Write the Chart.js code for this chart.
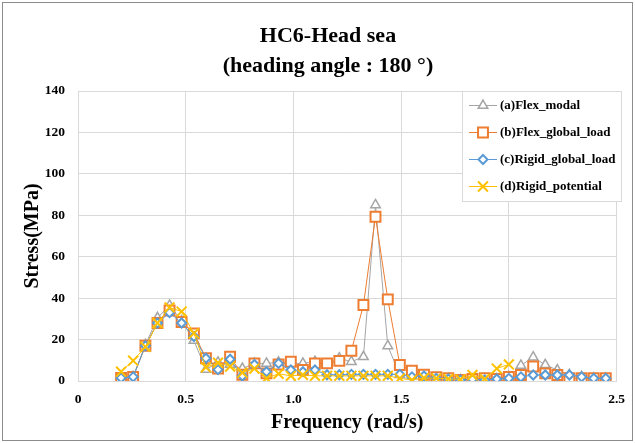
<!DOCTYPE html>
<html>
<head>
<meta charset="utf-8">
<script src="https://cdn.jsdelivr.net/npm/chart.js@4/dist/chart.umd.min.js"></script>
<style>
	html, body { margin: 0; padding: 0; background: #fff; }
	#wrap { width: 635px; height: 443px; }
</style>
</head>
<body>
<div id="wrap"><canvas id="line-chartcanvas-1" width="635" height="443"></canvas></div>
<script>
var titleLines = ['HC6-Head sea', '(heading angle : 180 \u00b0)'];
var seriesNames = ['(a)Flex_modal', '(b)Flex_global_load', '(c)Rigid_global_load', '(d)Rigid_potential'];

var freq = [0.2, 0.256, 0.313, 0.369, 0.425, 0.481, 0.538, 0.594, 0.65, 0.706,
	0.763, 0.819, 0.875, 0.931, 0.988, 1.044, 1.1, 1.156, 1.213, 1.269,
	1.325, 1.381, 1.438, 1.494, 1.55, 1.606, 1.663, 1.719, 1.775, 1.831,
	1.888, 1.944, 2.0, 2.056, 2.113, 2.169, 2.225, 2.281, 2.338, 2.394, 2.45];

var flexModal = [1, 2, 17.5, 30.5, 36.5, 29, 19.5, 5.5, 9, 8,
	6, 8.5, 8.5, 9, 8.5, 8.5, 9.3, 8, 11, 9.3,
	11.7, 85, 16.9, 3, 2.5, 2.5, 1.5, 1, 0.5, 0.8,
	1, 1, 2, 7.5, 11.5, 7.8, 5.3, 3, 2, 1.3, 1.3];

var flexGlobal = [1.5, 2, 17, 28, 34, 28.5, 23, 11, 6, 11.7,
	3, 8.5, 3.7, 8, 9.3, 5.3, 8.5, 8.5, 9.7, 14.6,
	36.7, 79.3, 39.4, 7.7, 5, 3, 1.8, 1.3, 0.5, 1,
	1.3, 1, 2, 2.9, 7, 3.7, 2.9, 1.3, 1.3, 1.3, 1.3];

var rigidGlobal = [1.5, 2, 17, 28, 33, 28, 21.5, 11, 5.5, 10.5,
	2.4, 8, 4.5, 8.5, 5.3, 4.5, 5.3, 3, 3, 3.2,
	3.2, 3.2, 3.2, 3.2, 2, 2.4, 1.3, 1, 0.5, 0.8,
	0.5, 1, 1.3, 2, 2.9, 2.9, 2.9, 2.9, 2, 1.3, 1.3];

var rigidPotential = [4.5, 9.8, 16.5, 28, 35.5, 33.5, 23, 6.6, 8.8, 7,
	4, 6, 1.3, 3.5, 2.5, 3, 2.5, 2.5, 2.5, 2.5,
	2.5, 2.5, 2.5, 1.3, 0.5, 1.5, 1.3, 1, 0.8, 2.9,
	1, 6, 8];

var xTicks = [0, 0.5, 1, 1.5, 2, 2.5];
var yTicks = [0, 20, 40, 60, 80, 100, 120, 140];

var serif = "'Liberation Serif', 'Times New Roman', serif";

function toPoints(values) {
	var pts = [];
	for (var i in values) {
		pts.push({x: freq[i], y: values[i]});
	}
	return pts;
}

function makeSet(name, values, color, style, radius, bw, order) {
	return {
		label: name,
		data: toPoints(values),
		borderColor: color,
		borderWidth: 1,
		backgroundColor: '#fff',
		pointStyle: style,
		pointRadius: radius,
		pointHoverRadius: radius,
		pointBorderColor: color,
		pointBackgroundColor: '#fff',
		pointBorderWidth: bw,
		tension: 0,
		order: order
	};
}

var chartdata = {
	datasets: [
		makeSet(seriesNames[0], flexModal, '#a5a5a5', 'triangle', 5.5, 1.5, 4),
		makeSet(seriesNames[1], flexGlobal, '#ed7d31', 'rect', 7, 2, 3),
		makeSet(seriesNames[2], rigidGlobal, '#5b9bd5', 'rectRot', 4.5, 2, 2),
		makeSet(seriesNames[3], rigidPotential, '#ffc000', 'crossRot', 7, 2, 1)
	]
};

var extras = {
	id: 'extras',
	afterDraw: function(chart) {
		var ctx = chart.ctx;
		ctx.save();
		// outer frame
		ctx.strokeStyle = '#8c8c8c';
		ctx.lineWidth = 1;
		ctx.strokeRect(2.5, 2.5, 630, 438);

		// title
		ctx.fillStyle = '#000';
		ctx.textAlign = 'center';
		ctx.textBaseline = 'middle';
		ctx.font = 'bold 22px ' + serif;
		ctx.fillText(titleLines[0], 328, 36);
		ctx.fillText(titleLines[1], 328, 66);

		// legend
		ctx.fillStyle = '#fff';
		ctx.fillRect(462.5, 91.5, 159, 110);
		ctx.strokeStyle = '#d9d9d9';
		ctx.strokeRect(462.5, 91.5, 159, 110);
		var sets = chart.data.datasets;
		for (var i = 0; i < sets.length; i++) {
			var ds = sets[i];
			var y = 105.5 + i * 27;
			ctx.strokeStyle = ds.borderColor;
			ctx.lineWidth = 1;
			ctx.beginPath();
			ctx.moveTo(469, y);
			ctx.lineTo(497, y);
			ctx.stroke();
			ctx.fillStyle = '#fff';
			ctx.lineWidth = ds.pointBorderWidth;
			Chart.helpers.drawPoint(ctx, {pointStyle: ds.pointStyle, radius: ds.pointRadius, borderWidth: ds.pointBorderWidth, rotation: 0}, 483, y);
			ctx.fillStyle = '#000';
			ctx.textAlign = 'left';
			ctx.font = 'bold 13px ' + serif;
			ctx.fillText(ds.label, 500, y + 0.5);
		}
		ctx.restore();
	}
};

var ctx = document.getElementById('line-chartcanvas-1');

var lineGraph = new Chart(ctx, {
	type: 'line',
	data: chartdata,
	options: {
		responsive: false,
		animation: false,
		events: [],
		layout: { padding: { top: 91, right: 14, left: 0, bottom: 0 } },
		plugins: {
			legend: { display: false },
			title: { display: false },
			tooltip: { enabled: false }
		},
		scales: {
			x: {
				type: 'linear',
				min: 0,
				max: 2.5,
				afterFit: function(scale) { scale.height = 62; },
				afterBuildTicks: function(scale) {
					scale.ticks = xTicks.map(function(v) { return {value: v}; });
				},
				grid: { color: '#d9d9d9', drawTicks: false },
				border: { color: '#d9d9d9' },
				ticks: {
					color: '#000',
					padding: 10,
					maxRotation: 0,
					font: { family: serif, size: 13.5, weight: 'bold' }
				},
				title: {
					display: true,
					text: 'Frequency (rad/s)',
					color: '#000',
					padding: { top: 0, bottom: 8 },
					font: { family: serif, size: 20, weight: 'bold' }
				}
			},
			y: {
				min: 0,
				max: 140,
				afterFit: function(scale) { scale.width = 78; },
				afterBuildTicks: function(scale) {
					scale.ticks = yTicks.map(function(v) { return {value: v}; });
				},
				grid: { color: '#d9d9d9', drawTicks: false },
				border: { color: '#d9d9d9' },
				ticks: {
					color: '#000',
					padding: 13,
					font: { family: serif, size: 13.5, weight: 'bold' }
				},
				title: {
					display: true,
					text: 'Stress(MPa)',
					color: '#000',
					padding: { top: 21, bottom: 0 },
					font: { family: serif, size: 20, weight: 'bold' }
				}
			}
		}
	},
	plugins: [extras]
});
</script>
</body>
</html>
